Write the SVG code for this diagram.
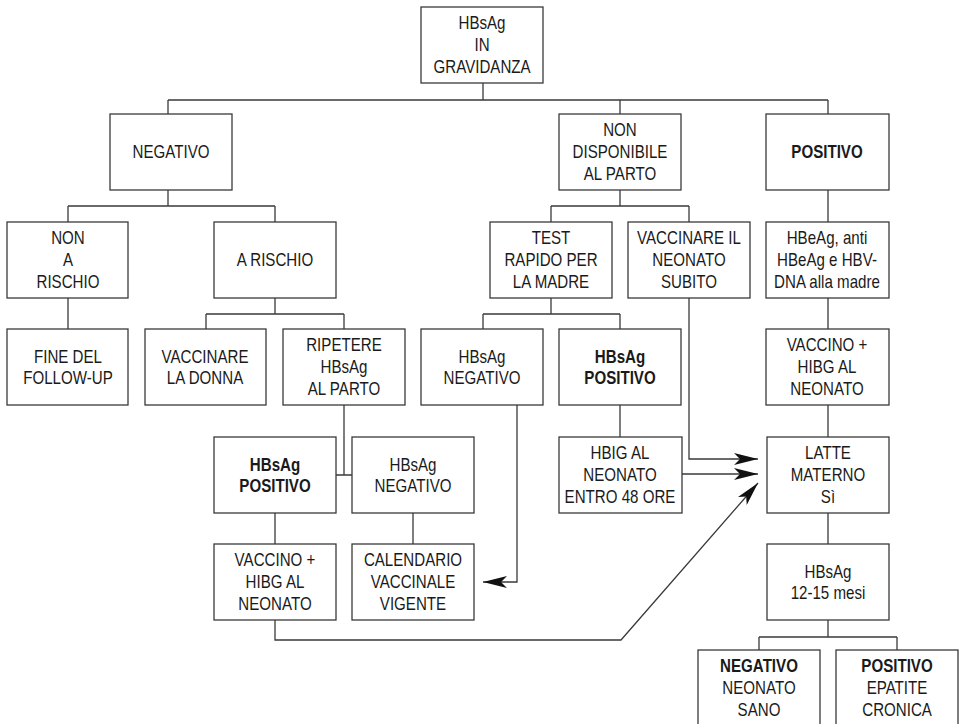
<svg xmlns="http://www.w3.org/2000/svg" width="959" height="724" viewBox="0 0 959 724">
<style>
.b{fill:#fff;stroke:#3a3a3a;stroke-width:1.3}
.t{font-family:"Liberation Sans",Arial,sans-serif;font-size:18px;fill:#1a1a1a;text-anchor:middle;transform:scaleX(0.84);transform-box:fill-box;transform-origin:center}
.bd{font-weight:bold}
.c{fill:none;stroke:#3a3a3a;stroke-width:1.3}
</style>
<defs>
<marker id="ah" markerUnits="userSpaceOnUse" viewBox="0 0 24 12" refX="24" refY="6" markerWidth="24" markerHeight="12" orient="auto">
<path d="M0 0 L24 6 L0 12 L6 6 Z" fill="#111"/>
</marker>
</defs>
<rect width="959" height="724" fill="#fff"/>
<g id="connectors">
<path class="c" d="M483 83V100M168 100H828M168 100V114M620 100V114M828 100V114"/>
<path class="c" d="M168 190V206M68 206H275M68 206V222M275 206V222"/>
<path class="c" d="M68 298V329"/>
<path class="c" d="M275 298V314M206 314H344M206 314V329M344 314V329"/>
<path class="c" d="M344 405V475M336 475H352"/>
<path class="c" d="M275 513V544M413 513V544"/>
<path class="c" d="M620 190V206M551 206H689M551 206V222M689 206V222"/>
<path class="c" d="M551 298V314M483 314H620M483 314V329M620 314V329"/>
<path class="c" d="M620 405V437"/>
<path class="c" d="M828 190V222M828 298V329M828 405V437M828 513V544M828 620V637M759 637H897M759 637V650M897 637V650"/>
<path class="c" d="M275 620V640H621L758 483" marker-end="url(#ah)"/>
<path class="c" d="M517 405V582H483" marker-end="url(#ah)"/>
<path class="c" d="M689 298V459H758" marker-end="url(#ah)"/>
<path class="c" d="M682 474H758" marker-end="url(#ah)"/>
</g>
<g id="n-top"><rect class="b" x="421" y="7" width="122" height="76"/><text class="t" x="482" y="29">HBsAg</text><text class="t" x="482" y="51">IN</text><text class="t" x="482" y="73">GRAVIDANZA</text></g>
<g id="n-negativo"><rect class="b" x="110" y="114" width="122" height="76"/><text class="t" x="171" y="158">NEGATIVO</text></g>
<g id="n-nondisp"><rect class="b" x="559" y="114" width="122" height="76"/><text class="t" x="620" y="136">NON</text><text class="t" x="620" y="158">DISPONIBILE</text><text class="t" x="620" y="180">AL PARTO</text></g>
<g id="n-positivo"><rect class="b" x="766" y="114" width="123" height="76"/><text class="t bd" x="827" y="158">POSITIVO</text></g>
<g id="n-nonrischio"><rect class="b" x="7" y="222" width="121" height="76"/><text class="t" x="68" y="244">NON</text><text class="t" x="68" y="266">A</text><text class="t" x="68" y="288">RISCHIO</text></g>
<g id="n-arischio"><rect class="b" x="214" y="222" width="122" height="76"/><text class="t" x="275" y="266">A RISCHIO</text></g>
<g id="n-test"><rect class="b" x="490" y="222" width="122" height="76"/><text class="t" x="551" y="244">TEST</text><text class="t" x="551" y="266">RAPIDO PER</text><text class="t" x="551" y="288">LA MADRE</text></g>
<g id="n-vaccneo"><rect class="b" x="628" y="222" width="122" height="76"/><text class="t" x="689" y="244">VACCINARE IL</text><text class="t" x="689" y="266">NEONATO</text><text class="t" x="689" y="288">SUBITO</text></g>
<g id="n-hbeag"><rect class="b" x="766" y="222" width="123" height="76"/><text class="t" x="827" y="244">HBeAg, anti</text><text class="t" x="827" y="266">HBeAg e HBV-</text><text class="t" x="827" y="288">DNA alla madre</text></g>
<g id="n-fine"><rect class="b" x="7" y="329" width="121" height="76"/><text class="t" x="68" y="363">FINE DEL</text><text class="t" x="68" y="384">FOLLOW-UP</text></g>
<g id="n-vaccdonna"><rect class="b" x="145" y="329" width="121" height="76"/><text class="t" x="205" y="363">VACCINARE</text><text class="t" x="205" y="384">LA DONNA</text></g>
<g id="n-ripetere"><rect class="b" x="283" y="329" width="122" height="76"/><text class="t" x="344" y="351">RIPETERE</text><text class="t" x="344" y="373">HBsAg</text><text class="t" x="344" y="395">AL PARTO</text></g>
<g id="n-hbsneg-mid"><rect class="b" x="421" y="329" width="122" height="76"/><text class="t" x="482" y="363">HBsAg</text><text class="t" x="482" y="384">NEGATIVO</text></g>
<g id="n-hbspos-mid"><rect class="b" x="559" y="329" width="122" height="76"/><text class="t bd" x="620" y="363">HBsAg</text><text class="t bd" x="620" y="384">POSITIVO</text></g>
<g id="n-vaccino-r"><rect class="b" x="766" y="329" width="123" height="76"/><text class="t" x="827" y="351">VACCINO +</text><text class="t" x="827" y="373">HIBG AL</text><text class="t" x="827" y="395">NEONATO</text></g>
<g id="n-hbspos-left"><rect class="b" x="214" y="437" width="122" height="76"/><text class="t bd" x="275" y="471">HBsAg</text><text class="t bd" x="275" y="492">POSITIVO</text></g>
<g id="n-hbsneg-left"><rect class="b" x="352" y="437" width="122" height="76"/><text class="t" x="413" y="471">HBsAg</text><text class="t" x="413" y="492">NEGATIVO</text></g>
<g id="n-hbig"><rect class="b" x="559" y="437" width="123" height="76"/><text class="t" x="620" y="459">HBIG AL</text><text class="t" x="620" y="481">NEONATO</text><text class="t" x="620" y="503">ENTRO 48 ORE</text></g>
<g id="n-latte"><rect class="b" x="767" y="437" width="122" height="76"/><text class="t" x="828" y="459">LATTE</text><text class="t" x="828" y="481">MATERNO</text><text class="t" x="828" y="503">Sì</text></g>
<g id="n-vaccino-l"><rect class="b" x="214" y="544" width="122" height="76"/><text class="t" x="275" y="566">VACCINO +</text><text class="t" x="275" y="588">HIBG AL</text><text class="t" x="275" y="610">NEONATO</text></g>
<g id="n-calendario"><rect class="b" x="352" y="544" width="122" height="76"/><text class="t" x="413" y="566">CALENDARIO</text><text class="t" x="413" y="588">VACCINALE</text><text class="t" x="413" y="610">VIGENTE</text></g>
<g id="n-hbs1215"><rect class="b" x="767" y="544" width="122" height="76"/><text class="t" x="828" y="578">HBsAg</text><text class="t" x="828" y="599">12-15 mesi</text></g>
<g id="n-finneg"><rect class="b" x="698" y="650" width="122" height="80"/><text class="t bd" x="759" y="672">NEGATIVO</text><text class="t" x="759" y="694">NEONATO</text><text class="t" x="759" y="716">SANO</text></g>
<g id="n-finpos"><rect class="b" x="836" y="650" width="122" height="80"/><text class="t bd" x="897" y="672">POSITIVO</text><text class="t" x="897" y="694">EPATITE</text><text class="t" x="897" y="716">CRONICA</text></g>
</svg>
